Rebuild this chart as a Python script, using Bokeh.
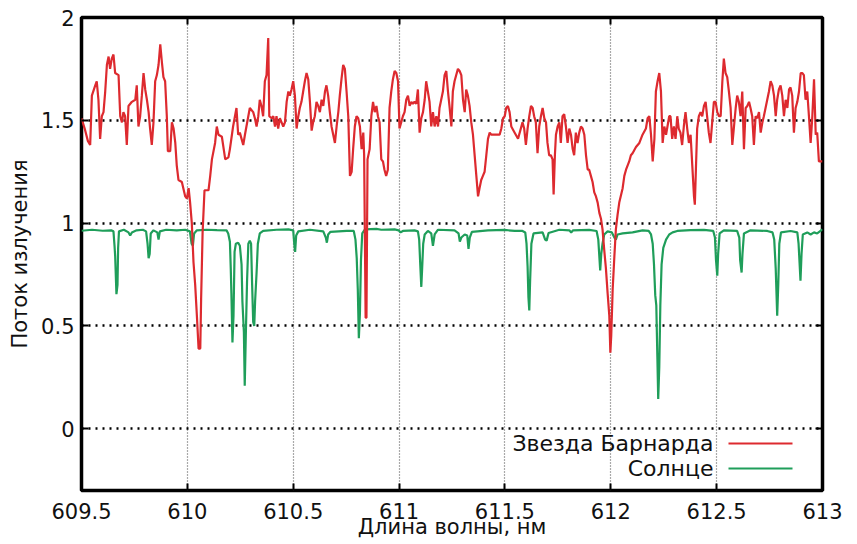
from bokeh.plotting import figure
from bokeh.embed import file_html
from bokeh.resources import INLINE
from bokeh.models import (FixedTicker, CustomJSTickFormatter, LinearAxis, Label,
                          BoxAnnotation, Range1d)

# ---- data ----
barnard_x = [
 609.500, 609.515, 609.530, 609.541, 609.549, 609.565, 609.572, 609.580, 609.588, 609.596,
 609.604, 609.612, 609.620, 609.628, 609.635, 609.643, 609.651, 609.659, 609.675, 609.683,
 609.691, 609.698, 609.706, 609.714, 609.722, 609.738, 609.754, 609.761, 609.769, 609.777,
 609.785, 609.793, 609.801, 609.809, 609.817, 609.824, 609.832, 609.840, 609.848, 609.856,
 609.864, 609.872, 609.880, 609.887, 609.895, 609.903, 609.908, 609.919, 609.927, 609.935,
 609.943, 609.950, 609.958, 609.974, 609.990, 609.998, 610.006, 610.013, 610.021, 610.029,
 610.037, 610.045, 610.053, 610.061, 610.065, 610.072, 610.081, 610.100, 610.108, 610.116,
 610.131, 610.139, 610.147, 610.163, 610.179, 610.194,
 610.201, 610.216, 610.232, 610.240, 610.248, 610.256, 610.264, 610.272, 610.279, 610.295,
 610.311, 610.319, 610.327, 610.335, 610.342, 610.350, 610.358, 610.366, 610.374, 610.382,
 610.387, 610.398, 610.406, 610.414, 610.421, 610.429, 610.437, 610.445, 610.453, 610.461,
 610.469, 610.477, 610.484, 610.492, 610.500, 610.508, 610.516, 610.524, 610.531, 610.539,
 610.547, 610.555, 610.563, 610.571, 610.579, 610.587, 610.594, 610.602, 610.610, 610.618,
 610.626, 610.634, 610.642, 610.650, 610.657, 610.665, 610.673, 610.681, 610.689, 610.697,
 610.705, 610.713, 610.720, 610.728, 610.736, 610.744, 610.752, 610.760, 610.768, 610.776,
 610.783, 610.791, 610.799, 610.807, 610.815, 610.823, 610.831, 610.835, 610.842, 610.846,
 610.851, 610.861, 610.869, 610.877, 610.885, 610.893,
 610.900, 610.908, 610.916, 610.924, 610.931, 610.939, 610.947, 610.955, 610.963, 610.971,
 610.979, 610.987, 610.995, 611.002, 611.010, 611.018, 611.026, 611.034, 611.042, 611.050,
 611.058, 611.065, 611.073, 611.081, 611.089, 611.097, 611.105, 611.113, 611.121, 611.128,
 611.136, 611.144, 611.152, 611.160, 611.168, 611.176, 611.184, 611.191, 611.199, 611.207,
 611.215, 611.223, 611.231, 611.239, 611.247, 611.254, 611.262, 611.270, 611.278, 611.286,
 611.294, 611.302, 611.310, 611.317, 611.325, 611.333, 611.341, 611.349, 611.357, 611.365,
 611.373, 611.380, 611.388, 611.396, 611.404, 611.412, 611.420, 611.428, 611.436, 611.443,
 611.451, 611.459, 611.467, 611.475, 611.483, 611.491, 611.499, 611.506, 611.514, 611.522,
 611.530, 611.546, 611.562,
 611.583, 611.591, 611.599, 611.607, 611.615, 611.623, 611.631, 611.638, 611.646, 611.654,
 611.662, 611.670, 611.678, 611.686, 611.694, 611.701, 611.709, 611.717, 611.725, 611.730,
 611.736, 611.741, 611.749, 611.757, 611.764, 611.772, 611.780, 611.788, 611.796, 611.804,
 611.812, 611.820, 611.827, 611.835, 611.843, 611.851, 611.859, 611.867, 611.875, 611.883,
 611.891, 611.898, 611.906, 611.914, 611.922, 611.930, 611.938, 611.946, 611.954, 611.961,
 611.969, 611.977, 611.985, 611.993, 611.998, 612.002, 612.009, 612.017, 612.024, 612.032,
 612.040, 612.056, 612.064, 612.072, 612.087, 612.095, 612.103, 612.119, 612.135, 612.150,
 612.166, 612.174, 612.182, 612.190, 612.198, 612.206, 612.213, 612.221, 612.229, 612.237,
 612.245, 612.253, 612.261, 612.276,
 612.282, 612.290, 612.298, 612.306, 612.314, 612.321, 612.329, 612.337, 612.345, 612.353,
 612.361, 612.369, 612.377, 612.385, 612.393, 612.397, 612.402, 612.408, 612.416, 612.424,
 612.432, 612.440, 612.448, 612.456, 612.463, 612.471, 612.479, 612.487, 612.495, 612.503,
 612.511, 612.519, 612.527, 612.534, 612.542, 612.550, 612.558, 612.566, 612.574, 612.582,
 612.590, 612.597, 612.605, 612.613, 612.621, 612.629, 612.637, 612.645, 612.653, 612.660,
 612.668, 612.676, 612.684, 612.692, 612.700, 612.708, 612.716, 612.723, 612.731, 612.739,
 612.747, 612.755, 612.763, 612.771, 612.779, 612.786, 612.794, 612.802, 612.810, 612.818,
 612.826, 612.834, 612.842, 612.849, 612.857, 612.865, 612.873, 612.881, 612.889, 612.897,
 612.905, 612.912, 612.920, 612.928, 612.936, 612.944, 612.952, 612.960, 612.968, 612.975,
 612.983, 613.000,
]
barnard_flux = [
 1.51, 1.46, 1.40, 1.38, 1.62, 1.67, 1.69, 1.60, 1.41, 1.52,
 1.54, 1.64, 1.77, 1.81, 1.75, 1.80, 1.82, 1.73, 1.72, 1.52,
 1.49, 1.54, 1.52, 1.38, 1.57, 1.59, 1.60, 1.67, 1.47, 1.52,
 1.62, 1.73, 1.65, 1.60, 1.54, 1.46, 1.38, 1.49, 1.69, 1.72,
 1.77, 1.87, 1.78, 1.71, 1.69, 1.52, 1.35, 1.35, 1.49, 1.46,
 1.39, 1.28, 1.21, 1.20, 1.13, 1.12, 1.17, 1.10, 1.00, 0.81,
 0.70, 0.55, 0.39, 0.39, 0.63, 0.955, 1.16, 1.16, 1.23, 1.31,
 1.39, 1.47, 1.43, 1.42, 1.31, 1.32,
 1.36, 1.47, 1.56, 1.43, 1.44, 1.41, 1.38, 1.43, 1.47, 1.56,
 1.54, 1.51, 1.47, 1.52, 1.60, 1.57, 1.52, 1.69, 1.72, 1.90,
 1.52, 1.51, 1.52, 1.47, 1.52, 1.46, 1.51, 1.49, 1.47, 1.49,
 1.59, 1.64, 1.62, 1.65, 1.69, 1.62, 1.46, 1.52, 1.56, 1.59,
 1.64, 1.69, 1.73, 1.70, 1.59, 1.45, 1.49, 1.52, 1.59, 1.57,
 1.54, 1.60, 1.57, 1.64, 1.67, 1.62, 1.54, 1.47, 1.43, 1.39,
 1.47, 1.54, 1.62, 1.70, 1.77, 1.75, 1.64, 1.52, 1.23, 1.25,
 1.36, 1.47, 1.52, 1.51, 1.47, 1.36, 1.44, 1.33, 0.54, 0.54,
 1.31, 1.36, 1.52, 1.59, 1.54, 1.57,
 1.52, 1.49, 1.31, 1.30, 1.26, 1.23, 1.26, 1.56, 1.64, 1.70,
 1.74, 1.73, 1.69, 1.46, 1.49, 1.52, 1.54, 1.60, 1.62, 1.57,
 1.59, 1.58, 1.59, 1.58, 1.65, 1.44, 1.51, 1.54, 1.60, 1.69,
 1.64, 1.59, 1.47, 1.54, 1.47, 1.52, 1.47, 1.56, 1.60, 1.64,
 1.72, 1.74, 1.64, 1.56, 1.47, 1.64, 1.69, 1.72, 1.75, 1.74,
 1.72, 1.60, 1.54, 1.65, 1.62, 1.57, 1.49, 1.43, 1.33, 1.23,
 1.13, 1.17, 1.21, 1.23, 1.25, 1.33, 1.41, 1.44, 1.43, 1.43,
 1.43, 1.43, 1.43, 1.43, 1.46, 1.51, 1.52, 1.56, 1.57, 1.54,
 1.47, 1.44, 1.41,
 1.49, 1.46, 1.38, 1.46, 1.52, 1.57, 1.56, 1.52, 1.49, 1.34,
 1.47, 1.52, 1.56, 1.51, 1.49, 1.39, 1.33, 1.33, 1.31, 1.14,
 1.33, 1.43, 1.47, 1.49, 1.39, 1.52, 1.53, 1.47, 1.39, 1.46,
 1.43, 1.36, 1.33, 1.44, 1.39, 1.44, 1.47, 1.46, 1.43, 1.33,
 1.26, 1.26, 1.23, 1.20, 1.15, 1.13, 1.10, 1.05, 1.02, 0.97,
 0.87, 0.78, 0.66, 0.55, 0.37, 0.45, 0.68, 0.84, 0.97, 1.04,
 1.10, 1.17, 1.23, 1.26, 1.30, 1.33, 1.34, 1.37, 1.39, 1.43,
 1.46, 1.51, 1.52, 1.43, 1.30, 1.41, 1.64, 1.69, 1.73, 1.64,
 1.39, 1.47, 1.43, 1.52,
 1.52, 1.41, 1.47, 1.41, 1.52, 1.46, 1.44, 1.38, 1.47, 1.54,
 1.46, 1.39, 1.43, 1.28, 1.13, 1.09, 1.26, 1.46, 1.52, 1.54,
 1.52, 1.57, 1.59, 1.51, 1.44, 1.39, 1.49, 1.59, 1.59, 1.54,
 1.52, 1.52, 1.69, 1.80, 1.73, 1.71, 1.64, 1.56, 1.38, 1.47,
 1.56, 1.62, 1.59, 1.52, 1.64, 1.36, 1.56, 1.57, 1.59, 1.56,
 1.52, 1.38, 1.52, 1.51, 1.54, 1.44, 1.49, 1.52, 1.56, 1.60,
 1.64, 1.69, 1.67, 1.62, 1.52, 1.60, 1.65, 1.67, 1.62, 1.52,
 1.60, 1.56, 1.65, 1.66, 1.62, 1.44, 1.56, 1.59, 1.64, 1.73,
 1.73, 1.72, 1.60, 1.64, 1.52, 1.39, 1.52, 1.70, 1.43, 1.44,
 1.30, 1.30,
]

sun_x = [
 609.500, 609.550, 609.600, 609.640, 609.651, 609.656, 609.659, 609.665, 609.670, 609.673,
 609.677, 609.700, 609.722, 609.730, 609.738, 609.760, 609.790, 609.805, 609.812, 609.817,
 609.822, 609.827, 609.840, 609.858, 609.864, 609.870, 609.900, 609.950, 609.990, 610.012,
 610.020, 610.026, 610.032, 610.045, 610.090, 610.140, 610.185, 610.193, 610.201, 610.205,
 610.208, 610.213, 610.218, 610.223, 610.229, 610.240, 610.248, 610.256, 610.260, 610.267,
 610.271, 610.276, 610.282, 610.288, 610.295, 610.301, 610.306, 610.311, 610.316, 610.320,
 610.327, 610.333, 610.342, 610.358, 610.421, 610.477, 610.500, 610.505, 610.509, 610.514,
 610.524, 610.579, 610.642, 610.654, 610.659, 610.665, 610.676, 610.752, 610.786, 610.794,
 610.800, 610.805, 610.810, 610.815, 610.820, 610.826, 610.839, 610.893, 610.916, 610.979,
 610.998, 611.007, 611.018, 611.073, 611.089, 611.095, 611.100, 611.105, 611.109, 611.114,
 611.121, 611.136, 611.152, 611.160, 611.168, 611.184, 611.262, 611.281, 611.287, 611.294,
 611.310, 611.322, 611.328, 611.334, 611.344, 611.420, 611.499, 611.546, 611.583, 611.596,
 611.602, 611.607, 611.611, 611.615, 611.619, 611.625, 611.635, 611.678, 611.690, 611.697,
 611.706, 611.757, 611.804, 611.813, 611.822, 611.898, 611.933, 611.941, 611.947, 611.950,
 611.955, 611.961, 611.969, 611.985, 612.005, 612.017, 612.024, 612.032, 612.056, 612.103,
 612.150, 612.179, 612.190, 612.198, 612.204, 612.210, 612.215, 612.220, 612.224, 612.229,
 612.234, 612.240, 612.248, 612.261, 612.276, 612.292, 612.314, 612.377, 612.440, 612.484,
 612.492, 612.497, 612.503, 612.507, 612.514, 612.534, 612.597, 612.607, 612.611, 612.618,
 612.622, 612.629, 612.660, 612.739, 612.764, 612.772, 612.779, 612.783, 612.786, 612.791,
 612.796, 612.804, 612.849, 612.881, 612.887, 612.892, 612.896, 612.901, 612.907, 612.928,
 612.944, 612.960, 612.975, 613.000,
]
sun_flux = [
 0.963, 0.968, 0.963, 0.965, 0.960, 0.890, 0.840, 0.655, 0.700, 0.880,
 0.960, 0.968, 0.955, 0.940, 0.955, 0.965, 0.968, 0.960, 0.900, 0.830,
 0.850, 0.950, 0.965, 0.955, 0.920, 0.960, 0.968, 0.965, 0.968, 0.960,
 0.900, 0.890, 0.950, 0.965, 0.968, 0.966, 0.965, 0.950, 0.910, 0.780,
 0.660, 0.420, 0.550, 0.860, 0.900, 0.905, 0.890, 0.800, 0.620, 0.470,
 0.210, 0.450, 0.720, 0.900, 0.915, 0.900, 0.700, 0.520, 0.500, 0.620,
 0.760, 0.900, 0.950, 0.962, 0.968, 0.970, 0.965, 0.900, 0.860, 0.940,
 0.960, 0.968, 0.960, 0.930, 0.905, 0.945, 0.958, 0.962, 0.962, 0.920,
 0.830, 0.680, 0.440, 0.560, 0.820, 0.950, 0.970, 0.972, 0.968, 0.970,
 0.965, 0.955, 0.962, 0.965, 0.960, 0.920, 0.800, 0.690, 0.780, 0.900,
 0.945, 0.962, 0.950, 0.890, 0.945, 0.968, 0.965, 0.950, 0.910, 0.930,
 0.945, 0.940, 0.875, 0.930, 0.958, 0.965, 0.967, 0.962, 0.962, 0.955,
 0.900, 0.790, 0.640, 0.575, 0.720, 0.900, 0.950, 0.955, 0.920, 0.915,
 0.952, 0.968, 0.965, 0.955, 0.965, 0.967, 0.962, 0.920, 0.820, 0.770,
 0.850, 0.900, 0.945, 0.960, 0.955, 0.930, 0.920, 0.945, 0.950, 0.955,
 0.965, 0.962, 0.945, 0.900, 0.800, 0.650, 0.600, 0.350, 0.145, 0.300,
 0.600, 0.800, 0.880, 0.920, 0.945, 0.955, 0.962, 0.966, 0.967, 0.962,
 0.930, 0.820, 0.745, 0.850, 0.950, 0.965, 0.962, 0.930, 0.820, 0.760,
 0.850, 0.950, 0.965, 0.962, 0.955, 0.920, 0.780, 0.650, 0.550, 0.700,
 0.900, 0.955, 0.962, 0.955, 0.900, 0.800, 0.720, 0.850, 0.945, 0.955,
 0.945, 0.955, 0.950, 0.970,
]

x_ticks = [609.5, 610, 610.5, 611, 611.5, 612, 612.5, 613]
y_ticks = [0, 0.5, 1, 1.5, 2]
series_names = ["Звезда Барнарда", "Солнце"]
series_colors = ["#dd2a2f", "#1f9e5a"]

FONT = "DejaVu Sans"
FS = "21px"

p = figure(width=857, height=544, output_backend="svg", toolbar_location=None,
           x_range=Range1d(609.5, 613.0), y_range=Range1d(-0.3, 2.0),
           min_border_left=81, min_border_right=35, min_border_top=17, min_border_bottom=54,
           background_fill_color="white", border_fill_color="white")

p.outline_line_color = "black"
p.outline_line_width = 3.5
p.outline_line_alpha = 1.0

fmt = CustomJSTickFormatter(code="return String(Math.round(tick*10)/10)")
empty = CustomJSTickFormatter(code="return ''")

for ax in (p.xaxis[0], p.yaxis[0]):
    ax.major_label_text_font = FONT
    ax.major_label_text_font_size = FS
    ax.major_label_text_color = "#111111"
    ax.axis_label_text_font = FONT
    ax.axis_label_text_font_size = FS
    ax.axis_label_text_font_style = "normal"
    ax.axis_label_text_color = "#111111"
    ax.axis_line_color = None
    ax.major_tick_in = 7
    ax.major_tick_out = 0
    ax.major_tick_line_width = 2
    ax.major_tick_line_color = "black"
    ax.minor_tick_line_color = None
    ax.formatter = fmt

p.xaxis[0].ticker = FixedTicker(ticks=x_ticks)
p.yaxis[0].ticker = FixedTicker(ticks=y_ticks)
p.xaxis[0].axis_label = "Длина волны, нм"
p.yaxis[0].axis_label = "Поток излучения"
p.xaxis[0].major_label_standoff = 12
p.xaxis[0].axis_label_standoff = -7
p.yaxis[0].major_label_standoff = 7
p.yaxis[0].axis_label_standoff = 6

# mirrored ticks on right and top
r_ax = LinearAxis(ticker=FixedTicker(ticks=y_ticks), formatter=empty, axis_line_color=None,
                  major_tick_in=7, major_tick_out=0, major_tick_line_width=2,
                  minor_tick_line_color=None, major_label_standoff=0)
t_ax = LinearAxis(ticker=FixedTicker(ticks=x_ticks), formatter=empty, axis_line_color=None,
                  major_tick_in=7, major_tick_out=0, major_tick_line_width=2,
                  minor_tick_line_color=None, major_label_standoff=0)
p.add_layout(r_ax, "right")
p.add_layout(t_ax, "above")

p.xgrid.ticker = FixedTicker(ticks=x_ticks)
p.ygrid.ticker = FixedTicker(ticks=y_ticks)
p.xgrid.grid_line_color = "#555555"
p.xgrid.grid_line_dash = "1 2"
p.xgrid.grid_line_width = 1.2
p.ygrid.grid_line_color = "black"
p.ygrid.grid_line_dash = "2 5"
p.ygrid.grid_line_width = 2.5

p.line(sun_x, sun_flux, line_color=series_colors[1], line_width=2.2)
p.line(barnard_x, barnard_flux, line_color=series_colors[0], line_width=2.2)

# legend (text then sample line, as in the original)
for i, (name, col) in enumerate(zip(series_names, series_colors)):
    yoff = 47 - i * 25
    p.add_layout(Label(x=632, y=yoff, x_units="screen", y_units="screen", text=name,
                       text_align="right", text_baseline="middle",
                       text_font=FONT, text_font_size="22px", text_color="#111111"))
    p.add_layout(BoxAnnotation(left=647, right=711, bottom=yoff - 1, top=yoff + 1,
                               left_units="screen", right_units="screen",
                               bottom_units="screen", top_units="screen",
                               fill_color=col, fill_alpha=1.0, line_color=None))

open("out.html", "w").write(file_html(p, INLINE))
